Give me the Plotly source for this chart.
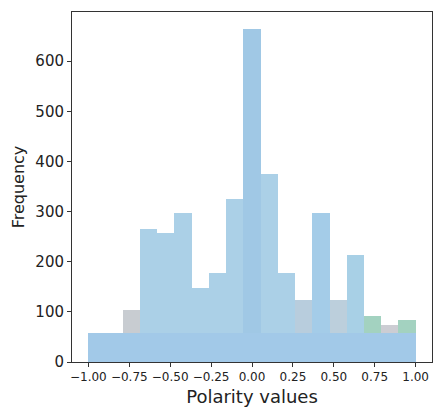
import plotly.graph_objects as go

# Histogram bins (19 equal bins from -1 to 1)
bin_edges = [-1.0, -0.8947, -0.7895, -0.6842, -0.5789, -0.4737, -0.3684, -0.2632,
             -0.1579, -0.0526, 0.0526, 0.1579, 0.2632, 0.3684, 0.4737, 0.5789,
             0.6842, 0.7895, 0.8947, 1.0]
counts = [57, 57, 103, 265, 257, 297, 147, 177, 325, 665, 375, 177, 124, 297,
          124, 214, 91, 74, 84]
bar_colors = ["#abd0e7", "#abd0e7", "#c8ccd1", "#abd0e7", "#abd0e7", "#abd0e7",
              "#abd0e7", "#abd0e7", "#abd0e7", "#a0c8e5", "#abd0e7", "#abd0e7",
              "#b8cddd", "#a4cce8", "#bccfdc", "#a8d0e6", "#a3d2c0", "#cccdd3",
              "#a3d2c0"]
base_level = 57

x_ticks = [-1.0, -0.75, -0.5, -0.25, 0.0, 0.25, 0.5, 0.75, 1.0]
x_tick_labels = ["\u22121.00", "\u22120.75", "\u22120.50", "\u22120.25", "0.00",
                 "0.25", "0.50", "0.75", "1.00"]
y_ticks = [0, 100, 200, 300, 400, 500, 600]

centers = [(a + b) / 2 for a, b in zip(bin_edges[:-1], bin_edges[1:])]
widths = [b - a for a, b in zip(bin_edges[:-1], bin_edges[1:])]

fig = go.Figure()
fig.add_trace(go.Bar(x=centers, y=counts, width=widths,
                     marker=dict(color=bar_colors, line=dict(width=0)),
                     showlegend=False, hoverinfo="skip"))
fig.add_trace(go.Bar(x=[(bin_edges[0] + bin_edges[-1]) / 2], y=[base_level],
                     width=[bin_edges[-1] - bin_edges[0]],
                     marker=dict(color="#a2c9e8", line=dict(width=0)),
                     showlegend=False, hoverinfo="skip"))

axis_common = dict(showline=True, linecolor="#333333", linewidth=1, mirror=True,
                   ticks="outside", ticklen=4, tickcolor="#333333", showgrid=False,
                   zeroline=False)
fig.update_layout(
    width=434, height=412, barmode="overlay", bargap=0,
    margin=dict(l=72, r=2, t=12, b=50),
    paper_bgcolor="white", plot_bgcolor="white",
    font=dict(family="DejaVu Sans", color="#222222"),
    xaxis=dict(range=[-1.1, 1.1], tickvals=x_ticks, ticktext=x_tick_labels,
               tickfont=dict(size=12), title=dict(text="Polarity values",
               font=dict(size=18), standoff=6), **axis_common),
    yaxis=dict(range=[0, 698], tickvals=y_ticks, tickfont=dict(size=15),
               title=dict(text="Frequency", font=dict(size=16), standoff=6),
               **axis_common),
)
fig.write_html("out.html")
